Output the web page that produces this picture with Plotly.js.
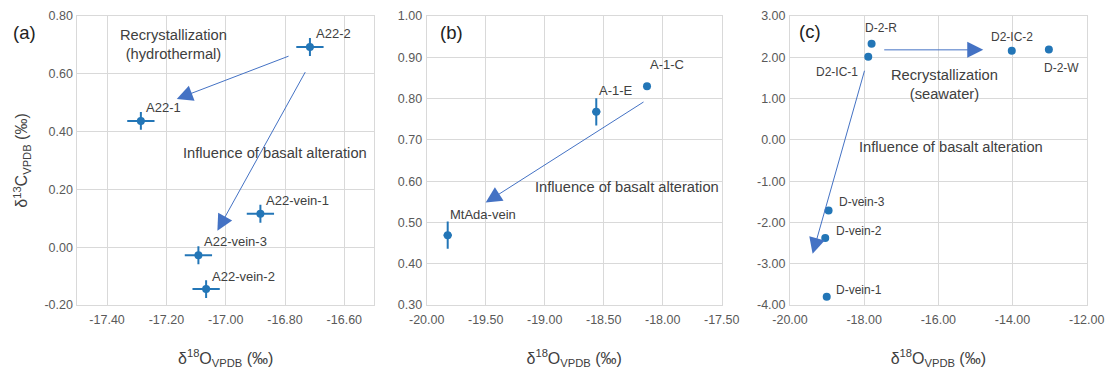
<!DOCTYPE html>
<html>
<head>
<meta charset="utf-8">
<script src="https://cdn.plot.ly/plotly-3.0.1.min.js"></script>
<style>html,body{margin:0;padding:0;background:#fff}#chart{width:1110px;height:370px}</style>
</head>
<body>
<div id="chart"></div>
<script>
// ---- Data ----
const aLabels = ["A22-2", "A22-1", "A22-vein-1", "A22-vein-3", "A22-vein-2"];
const aX = [-16.716, -17.286, -16.883, -17.092, -17.066];
const aY = [0.693, 0.437, 0.116, -0.028, -0.145];
const aErrX = [0.046, 0.046, 0.046, 0.046, 0.046];
const aErrY = [0.031, 0.031, 0.031, 0.031, 0.031];

const bLabels = ["A-1-C", "A-1-E", "MtAda-vein"];
const bX = [-18.133, -18.563, -19.822];
const bY = [0.830, 0.768, 0.469];
const bErrX = [0, 0.035, 0.035];
const bErrY = [0, 0.033, 0.033];

const cLabels = ["D-2-R", "D2-IC-1", "D2-IC-2", "D-2-W", "D-vein-3", "D-vein-2", "D-vein-1"];
const cX = [-17.80, -17.89, -14.02, -13.02, -18.96, -19.05, -19.01];
const cY = [2.33, 2.015, 2.16, 2.19, -1.71, -2.38, -3.80];

const aTickX = [-17.4, -17.2, -17.0, -16.8, -16.6];
const aTickY = [-0.2, 0.0, 0.2, 0.4, 0.6, 0.8];
const bTickX = [-20.0, -19.5, -19.0, -18.5, -18.0, -17.5];
const bTickY = [0.3, 0.4, 0.5, 0.6, 0.7, 0.8, 0.9, 1.0];
const cTickX = [-20, -18, -16, -14, -12];
const cTickY = [-4, -3, -2, -1, 0, 1, 2, 3];

const panelTags = ["(a)", "(b)", "(c)"];
const hydroText = "Recrystallization<br>(hydrothermal)";
const seaText = "Recrystallization<br>(seawater)";
const basaltText = "Influence of basalt alteration";
const xTitle = "δ<sup>18</sup>O<sub>VPDB</sub> (‰)";
const yTitle = "δ<sup>13</sup>C<sub>VPDB</sub> (‰)";

// ---- Styling ----
const W = 1110, H = 370;
const FONT = "Arial, 'Liberation Sans', sans-serif";
const PT = "#2376b7";
const ARROW = "#4472C4";
const GRID = "#d9d9d9";
const TXT = "#404040";
const TICK = "#595959";
const px = v => v / W;
const py = v => 1 - v / H;
const fmt = v => v.toFixed(2);

const yDom = [py(305), py(16)];

function mkAxis(domain, range, tickvals, anchor, isX, title, standoff) {
  const ax = {
    domain: domain, range: range, anchor: anchor,
    tickmode: "array", tickvals: tickvals, ticktext: tickvals.map(fmt),
    showgrid: true, gridcolor: GRID, gridwidth: 1,
    zeroline: false, showline: true, mirror: true, linecolor: GRID, linewidth: 1,
    ticks: "", tickfont: {family: FONT, size: 12.5, color: TICK},
    ticklabelstandoff: isX ? 3 : 1,
    automargin: false, fixedrange: true
  };
  if (title) ax.title = {text: title, font: {family: FONT, size: 16, color: TXT}, standoff: standoff};
  return ax;
}

const errStyle = (arr) => ({type: "data", array: arr, visible: true, color: PT, thickness: 2, width: 0});

const traces = [
  {x: aX, y: aY, xaxis: "x", yaxis: "y", mode: "markers", type: "scatter",
   marker: {color: PT, size: 8}, error_x: errStyle(aErrX), error_y: errStyle(aErrY), text: aLabels, hoverinfo: "text"},
  {x: bX, y: bY, xaxis: "x2", yaxis: "y2", mode: "markers", type: "scatter",
   marker: {color: PT, size: 8}, error_x: errStyle(bErrX), error_y: errStyle(bErrY), text: bLabels, hoverinfo: "text"},
  {x: cX, y: cY, xaxis: "x3", yaxis: "y3", mode: "markers", type: "scatter",
   marker: {color: PT, size: 8}, text: cLabels, hoverinfo: "text"}
];

const ann = [];
// point labels
const aOff = [[4, 13], [3, 13], [4, 13], [4, 14], [4, 13]];
aLabels.forEach((t, i) => ann.push({x: aX[i], y: aY[i], xref: "x", yref: "y", text: t, showarrow: false,
  xanchor: "left", yanchor: "middle", xshift: aOff[i][0], yshift: aOff[i][1], font: {family: FONT, size: 13, color: TXT}}));
const bOff = [[1, 22], [1, 21], [0, 21]];
bLabels.forEach((t, i) => ann.push({x: bX[i], y: bY[i], xref: "x2", yref: "y2", text: t, showarrow: false,
  xanchor: "left", yanchor: "middle", xshift: bOff[i][0], yshift: bOff[i][1], font: {family: FONT, size: 13, color: TXT}}));
const cOff = [["left", -9, 16], ["right", -8, -15], ["left", -23, 14], ["left", -7, -19], ["left", 8, 8], ["left", 9, 7], ["left", 7, 7]];
cLabels.forEach((t, i) => ann.push({x: cX[i], y: cY[i], xref: "x3", yref: "y3", text: t, showarrow: false,
  xanchor: cOff[i][0], yanchor: "middle", xshift: cOff[i][1], yshift: cOff[i][2], font: {family: FONT, size: 12, color: TXT}}));

// panel tags
[[24.7, 32], [451, 32], [810, 31]].forEach((p, i) => ann.push({x: px(p[0]), y: py(p[1]), xref: "paper", yref: "paper",
  text: panelTags[i], showarrow: false, xanchor: "center", yanchor: "middle", font: {family: FONT, size: 18.5, color: "#222"}}));

// descriptive texts
const dFont = {family: FONT, size: 14.7, color: TXT};
ann.push({x: px(173), y: py(44.5), xref: "paper", yref: "paper", text: hydroText, showarrow: false, xanchor: "center", yanchor: "middle", font: dFont});
ann.push({x: px(181), y: py(153), xref: "paper", yref: "paper", text: basaltText, showarrow: false, xanchor: "left", yanchor: "middle", font: dFont});
ann.push({x: px(533), y: py(187), xref: "paper", yref: "paper", text: basaltText, showarrow: false, xanchor: "left", yanchor: "middle", font: dFont});
ann.push({x: px(944), y: py(84), xref: "paper", yref: "paper", text: seaText, showarrow: false, xanchor: "center", yanchor: "middle", font: dFont});
ann.push({x: px(857), y: py(147), xref: "paper", yref: "paper", text: basaltText, showarrow: false, xanchor: "left", yanchor: "middle", font: dFont});

// arrows (tail -> head, data coords)
const arrows = [
  ["x", "y", -16.783, 0.663, -17.165, 0.513],
  ["x", "y", -16.729, 0.611, -17.028, 0.057],
  ["x2", "y2", -18.15, 0.794, -19.50, 0.548],
  ["x3", "y3", -17.50, 2.18, -14.79, 2.18],
  ["x3", "y3", -17.98, 1.71, -19.39, -2.76]
];
arrows.forEach(a => ann.push({xref: a[0], yref: a[1], axref: a[0], ayref: a[1], ax: a[2], ay: a[3], x: a[4], y: a[5],
  text: "", showarrow: true, arrowhead: 2, arrowsize: 3.2, arrowwidth: 1, arrowcolor: ARROW, standoff: 0}));

const layout = {
  width: W, height: H, margin: {l: 0, r: 0, t: 0, b: 0},
  paper_bgcolor: "#fff", plot_bgcolor: "#fff", showlegend: false,
  font: {family: FONT, color: TXT},
  xaxis: mkAxis([px(77.4), px(374)], [-17.5, -16.5], aTickX, "y", true, xTitle, 26),
  yaxis: mkAxis(yDom, [-0.2, 0.8], aTickY, "x", false, yTitle, 12),
  xaxis2: mkAxis([px(426.7), px(721.7)], [-20, -17.5], bTickX, "y2", true, xTitle, 26),
  yaxis2: mkAxis(yDom, [0.3, 1.0], bTickY, "x2", false),
  xaxis3: mkAxis([px(790), px(1086.7)], [-20, -12], cTickX, "y3", true, xTitle, 26),
  yaxis3: mkAxis(yDom, [-4, 3], cTickY, "x3", false),
  annotations: ann
};

Plotly.newPlot("chart", traces, layout, {displayModeBar: false, staticPlot: true});
</script>
</body>
</html>
